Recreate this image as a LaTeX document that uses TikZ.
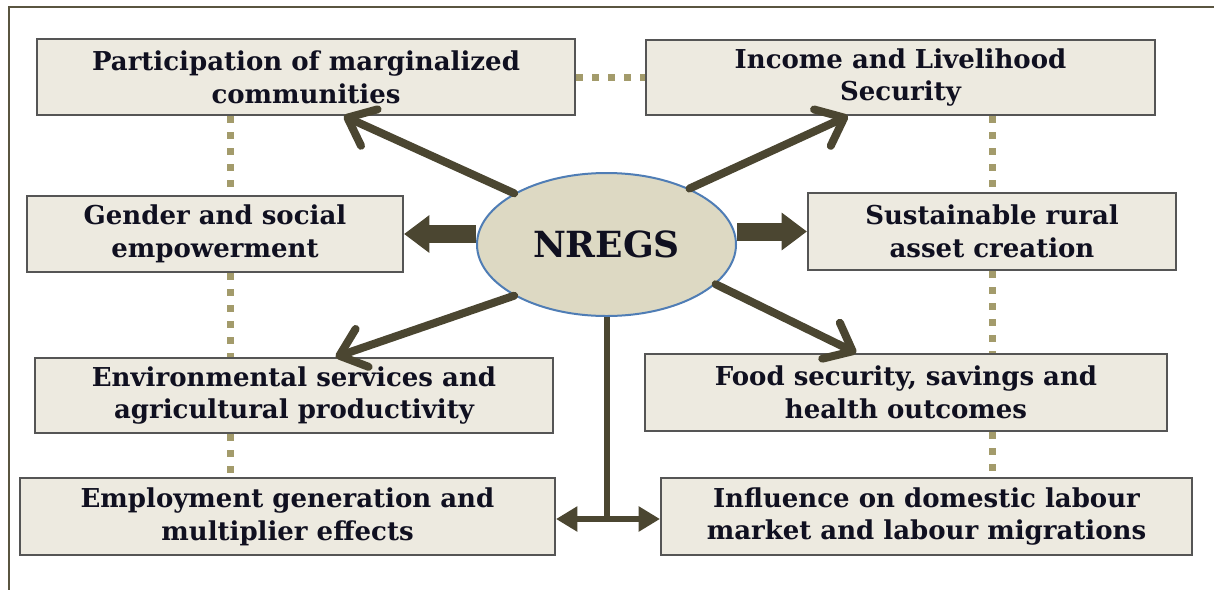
\documentclass[tikz,border=0pt]{standalone}
\usepackage{fontspec}
\setmainfont{DejaVu Serif}
\usetikzlibrary{arrows.meta,shapes.geometric,calc}
\definecolor{arr}{HTML}{4B4631}
\definecolor{dots}{HTML}{A39B6B}
\definecolor{boxfill}{HTML}{EDEAE0}
\definecolor{boxline}{HTML}{555555}
\definecolor{ellfill}{HTML}{DDD9C3}
\definecolor{ellline}{HTML}{4F7DB5}
\definecolor{framecol}{HTML}{5A5540}
\definecolor{txt}{HTML}{101020}
\newlength{\upx}\setlength{\upx}{0.75pt}
\begin{document}
\begin{tikzpicture}[x=0.75pt,y=-0.75pt,
  box/.style={draw=boxline, line width=2\upx, fill=boxfill, align=center, inner sep=0pt,
    font=\bfseries\fontsize{19.5}{24.5}\selectfont, text=txt},
  hub/.style={ellipse, draw=ellline, line width=2\upx, fill=ellfill, inner sep=0pt,
    minimum width=259\upx, minimum height=143\upx, font=\bfseries\fontsize{27}{30}\selectfont, text=txt},
  dotline/.style={draw=dots, line width=7\upx, dash pattern=on 7\upx off 9\upx},
  thinarrow/.style={draw=arr, line width=8\upx, line cap=round,
    -{Straight Barb[length=18pt,width=30pt,line join=round,line cap=round]}},
  thickarrow/.style={draw=arr, line width=18\upx, -{Triangle[length=19pt,width=27pt]}},
  stemline/.style={draw=arr, line width=6\upx},
  duoarrow/.style={draw=arr, line width=6\upx, {Triangle[length=16pt,width=18pt]}-{Triangle[length=16pt,width=18pt]}}
]
\useasboundingbox (0,0) rectangle (1214,590);
\fill[white] (0,0) rectangle (1214,590);
\draw[framecol, line width=2.5\upx] (1214,7) -- (9,7) -- (9,590);

\node[box, minimum width=538\upx, minimum height=76\upx] (p) at (306,77) {Participation of marginalized\\communities};
\node[box, minimum width=509\upx, minimum height=75\upx] (i) at (900.5,77.5) {Income and Livelihood\\Security};
\node[box, minimum width=376\upx, minimum height=76\upx] (g) at (215,234) {Gender and social\\empowerment};
\node[box, minimum width=368\upx, minimum height=77\upx] (s) at (992,231.5) {Sustainable rural\\asset creation};
\node[box, minimum width=518\upx, minimum height=75\upx] (e) at (294,395.5) {Environmental services and\\agricultural productivity};
\node[box, minimum width=522\upx, minimum height=77\upx] (f) at (906,392.5) {Food security, savings and\\health outcomes};
\node[box, minimum width=535\upx, minimum height=77\upx] (m) at (287.5,516.5) {Employment generation and\\multiplier effects};
\node[box, minimum width=531\upx, minimum height=77\upx] (l) at (926.5,516.5) {Influence on domestic labour\\market and labour migrations};

\coordinate (dl) at (230,0);
\coordinate (dr) at (992,0);
\coordinate (j) at (608,519);

\draw[dotline] (p.east) -- (p.east -| i.west);
\draw[dotline] (p.south -| dl) -- (g.north -| dl);
\draw[dotline] (g.south -| dl) -- (e.north -| dl);
\draw[dotline] (e.south -| dl) -- (m.north -| dl);
\draw[dotline] (i.south -| dr) -- (s.north -| dr);
\draw[dotline] (s.south -| dr) -- (f.north -| dr);
\draw[dotline] (f.south -| dr) -- (l.north -| dr);

\node[hub] (n) at (606.5,244.5) {NREGS};

\draw[thinarrow] (n.151) -- ($(p.south west)!0.57!(p.south east)$);
\draw[thinarrow] (n.34) -- ($(i.south west)!0.397!(i.south east)$);
\draw[thinarrow] (n.209) -- ($(e.north west)!0.58!(e.north east)$);
\draw[thinarrow] (n.340) -- ($(f.north west)!0.405!(f.north east)$);
\draw[thickarrow] (n.west |- g.east) -- (g.east);
\draw[thickarrow] (n.east |- s.west) -- (s.west);
\draw[stemline] (n.south) -- (n.south |- j);
\draw[duoarrow] (m.east |- j) -- (l.west |- j);
\end{tikzpicture}
\end{document}
